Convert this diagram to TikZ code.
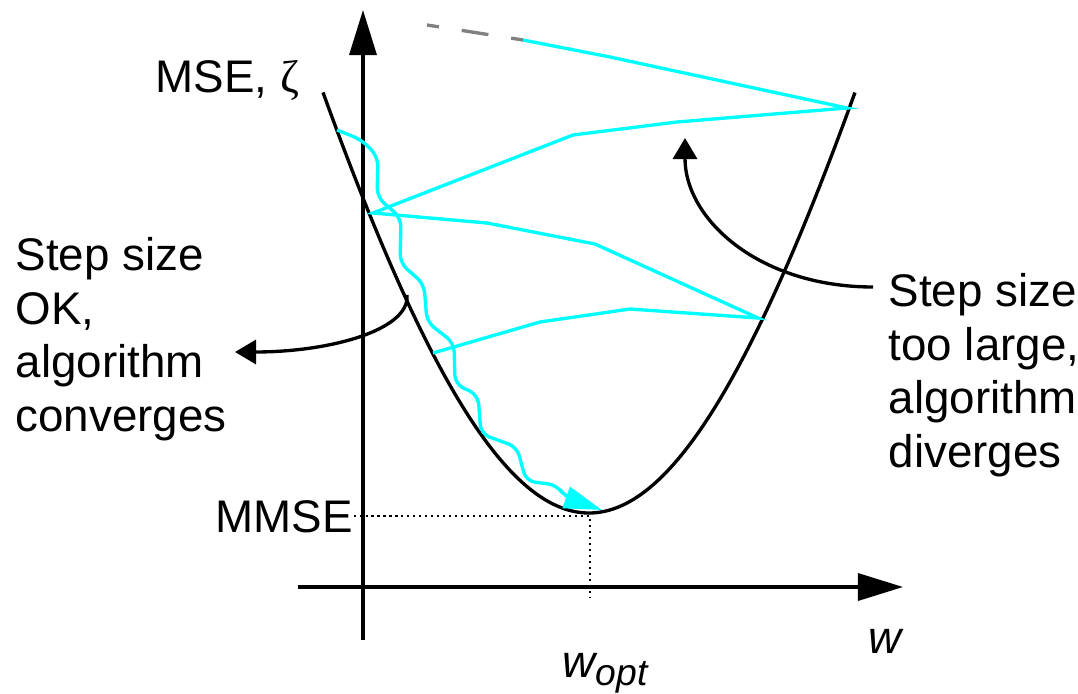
\documentclass[tikz,border=0pt]{standalone}
\usepackage{fontspec}
\setmainfont{Liberation Sans}
\newfontfamily\zetafont{Liberation Serif}
\usetikzlibrary{arrows.meta}
\definecolor{lmscyan}{RGB}{0,255,255}

\begin{document}
\begin{tikzpicture}[x=0.01cm, y=-0.01cm, every node/.style={font=\fontsize{13}{15.2}\selectfont, inner sep=0pt}, axis/.style={-{Triangle[length=0.45cm, width=0.27cm]}, line width=0.95pt, black}, bowl/.style={line width=0.95pt, black}, lms/.style={line width=0.95pt, lmscyan}, hint/.style={-{Triangle[length=0.21cm, width=0.24cm]}, line width=0.95pt, black}, guide/.style={line width=0.7pt, dash pattern=on 0.6pt off 1.1pt}]
  \useasboundingbox (0,0) rectangle (1078,694);

  % axes
  \coordinate (ybeg) at (363,640);
  \coordinate (yend) at (363,10);
  \coordinate (xbeg) at (298,587);
  \coordinate (xend) at (903,587);
  \draw[axis] (ybeg) -- (yend);
  \draw[axis] (xbeg) -- (xend);

  % error surface
  \draw[bowl] plot[domain=-2.66:2.66, samples=80, smooth] ({589+100*\x}, {513-1250*(sqrt(1+(\x/3)^2)-1)});

  % labels
  \node (mse) at (155,92) [anchor=base west] {MSE, {\zetafont ζ}};
  \node (mmse) at (215,532) [anchor=base west] {MMSE};
  \node (w) at (868,653) [anchor=base west, font=\fontsize{13}{15.2}\selectfont\itshape] {w};
  \node (wopt) at (562,677) [anchor=base west, font=\fontsize{13}{15.2}\selectfont\itshape] {w\raisebox{-2.3pt}{\fontsize{10.6}{12}\selectfont opt}};
  \node (ok) at (15,237) [anchor=north west, align=left] {Step size\\OK,\\algorithm\\converges};
  \node (big) at (888,273) [anchor=north west, align=left] {Step size\\too large,\\algorithm\\diverges};

  % minimum
  \coordinate (wfoot) at (590,598);
  \draw[guide] (mmse.east) -| (wfoot);

  % small step: converges
  \draw[lms, rounded corners=0.09cm, -{Triangle[length=0.38cm, width=0.22cm]}] (337,130) -- (362,140) -- (378,157) -- (377,197) -- (401,218) -- (400,263) -- (424,284) -- (427,322) -- (454,343) -- (455,384) -- (478,395) -- (481,434) -- (517,447) -- (526,481) -- (557,485) -- (565,497) -- (602,510);

  % large step: diverges
  \draw[lms] (433,353) -- (540,322) -- (630,309) -- (758,318) -- (595,244) -- (487,223) -- (373,213) -- (573,135) -- (677,122) -- (847,108) -- (610,57) -- (523,40);
  \draw[gray, line width=0.95pt, dash pattern=on 0.27cm off 0.23cm, dash phase=0.15cm] (523,40) -- (427,25);

  % pointers
  \coordinate (okfoot) at (407,295);
  \coordinate (oktip) at (235,352);
  \coordinate (bigfoot) at (873,287);
  \coordinate (bigtip) at (685,138);
  \draw[hint] (okfoot) .. controls (410,330) and (330,352) .. (oktip);
  \draw[hint] (bigfoot) .. controls (760,287) and (685,220) .. (bigtip);
\end{tikzpicture}
\end{document}
